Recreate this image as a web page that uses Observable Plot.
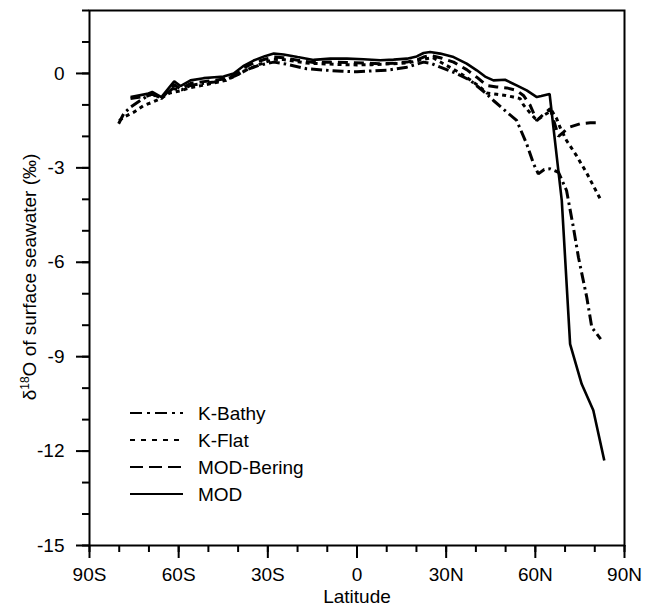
<!DOCTYPE html>
<html><head><meta charset="utf-8">
<script src="https://cdn.jsdelivr.net/npm/d3@7"></script>
<script src="https://cdn.jsdelivr.net/npm/@observablehq/plot@0.6"></script>
<style>body{margin:0;background:#fff}</style>
</head><body><div id="chart"></div><script>
// Latitude (degrees, negative = S) and δ18O values for each series
const modLat = [-76.2,-70.6,-68.9,-65.8,-61.5,-59.4,-56.0,-51.6,-48.0,-44.9,-41.5,-38.0,-34.8,-31.0,-28.0,-24.7,-20.0,-14.6,-9.0,-3.4,2.2,7.8,12.3,16.8,20.1,22.4,24.6,28.0,32.5,36.9,40.3,43.1,45.9,49.8,53.7,57.1,60.5,62.0,64.8,68.9,71.7,75.6,79.5,83.2];
const modVal = [-0.75,-0.65,-0.59,-0.75,-0.25,-0.40,-0.22,-0.15,-0.12,-0.10,0.00,0.25,0.41,0.55,0.63,0.60,0.52,0.43,0.47,0.47,0.45,0.42,0.44,0.47,0.54,0.65,0.68,0.63,0.52,0.31,0.10,-0.10,-0.22,-0.20,-0.38,-0.54,-0.75,-0.72,-0.65,-4.04,-8.60,-9.87,-10.70,-12.30];

const beringLat = [-76.2,-70.6,-68.9,-65.8,-61.5,-59.4,-56.0,-51.6,-48.0,-44.9,-41.5,-38.0,-34.8,-31.0,-28.0,-24.7,-20.0,-14.6,-9.0,-3.4,2.2,7.8,12.3,16.8,20.1,22.4,24.6,28.0,32.5,36.9,40.3,43.6,47.0,50.4,53.7,56.0,58.2,60.5,62.7,65.0,67.8,69.4,71.1,75.0,78.5,82.0];
const beringVal = [-0.80,-0.72,-0.66,-0.80,-0.35,-0.50,-0.32,-0.26,-0.22,-0.18,-0.05,0.18,0.33,0.45,0.52,0.50,0.42,0.35,0.36,0.35,0.33,0.31,0.32,0.36,0.43,0.52,0.57,0.50,0.36,0.12,-0.12,-0.38,-0.43,-0.46,-0.54,-0.70,-1.00,-1.50,-1.30,-1.12,-2.00,-1.87,-1.72,-1.60,-1.57,-1.57];

const kFlatLat = [-80.0,-78.5,-75.1,-71.8,-69.0,-66.1,-63.0,-59.4,-56.0,-52.0,-48.0,-44.0,-41.0,-37.0,-33.0,-28.0,-24.7,-17.0,-10.0,-5.0,0.0,5.0,10.0,16.8,22.4,25.5,30.2,34.0,38.0,41.4,43.6,47.0,50.0,52.6,54.9,56.0,58.2,60.5,62.7,65.5,67.2,68.3,70.5,73.9,77.3,82.3];
const kFlatVal = [-1.50,-1.39,-1.23,-1.02,-0.92,-0.80,-0.62,-0.55,-0.45,-0.38,-0.30,-0.22,-0.08,0.12,0.28,0.45,0.44,0.33,0.30,0.28,0.27,0.28,0.30,0.33,0.45,0.50,0.25,0.05,-0.20,-0.43,-0.62,-0.66,-0.70,-0.75,-0.80,-1.00,-1.25,-1.49,-1.34,-1.18,-1.44,-1.71,-2.13,-2.62,-3.17,-4.07];

const kBathyLat = [-80.2,-78.5,-76.2,-72.0,-69.0,-66.0,-62.0,-59.0,-56.0,-52.0,-48.0,-45.0,-41.0,-37.0,-33.0,-28.0,-24.0,-17.0,-10.0,-5.0,0.0,5.0,10.0,16.8,22.4,25.0,28.0,33.0,38.1,43.6,45.9,50.4,53.7,57.1,59.4,61.0,63.0,65.0,67.8,70.5,72.8,74.5,77.3,79.0,82.0];
const kBathyVal = [-1.60,-1.28,-1.07,-0.80,-0.65,-0.78,-0.48,-0.52,-0.38,-0.32,-0.27,-0.22,-0.08,0.12,0.26,0.36,0.30,0.15,0.10,0.07,0.05,0.08,0.10,0.20,0.36,0.32,0.20,0.02,-0.22,-0.65,-0.86,-1.23,-1.49,-2.24,-2.87,-3.19,-3.05,-3.03,-3.14,-3.72,-4.89,-5.84,-7.11,-8.07,-8.44];

const seriesNames = ["K-Bathy","K-Flat","MOD-Bering","MOD"];
const xTicksMajor = [-90,-60,-30,0,30,60,90];
const xTickLabels = ["90S","60S","30S","0","30N","60N","90N"];
const yTicksMajor = [-15,-12,-9,-6,-3,0];
const yTickLabels = ["-15","-12","-9","-6","-3","0"];

const styles = {
  "K-Bathy":   {dash:"11,4,2.5,4", width:3, legendDash:"12,5,3,5"},
  "K-Flat":    {dash:"4,4",        width:3, legendDash:"5,6"},
  "MOD-Bering":{dash:"10,6",       width:3, legendDash:"13,6"},
  "MOD":       {dash:null,         width:2.6, legendDash:null}
};
const seriesData = {
  "K-Bathy": [kBathyLat, kBathyVal],
  "K-Flat": [kFlatLat, kFlatVal],
  "MOD-Bering": [beringLat, beringVal],
  "MOD": [modLat, modVal]
};
const rows = seriesNames.flatMap(name => seriesData[name][0].map((lat,i) => ({series:name, lat, val:seriesData[name][1][i]})));

const font = '"Liberation Sans", Arial, sans-serif';
const tickFont = 19;
const chart = Plot.plot({
  width: 660, height: 606,
  marginLeft: 89, marginRight: 36, marginTop: 10, marginBottom: 61,
  style: {fontFamily: font, fontSize: tickFont + "px", color: "black", background: "white"},
  x: {domain: [-90, 90], label: null},
  y: {domain: [-15, 2], label: null},
  marks: [
    Plot.axisX({ticks: d3.range(-90, 91, 10), tickSize: 7, tickFormat: () => "", strokeWidth: 2, label: null}),
    Plot.axisX({ticks: xTicksMajor, tickSize: 13, tickPadding: 9, strokeWidth: 2, label: null,
      tickFormat: d => xTickLabels[xTicksMajor.indexOf(d)], fontSize: tickFont}),
    Plot.axisY({ticks: d3.range(-15, 3, 1), tickSize: 7, tickFormat: () => "", strokeWidth: 2, label: null}),
    Plot.axisY({ticks: yTicksMajor, tickSize: 13, tickPadding: 12, strokeWidth: 2, label: null,
      tickFormat: d => yTickLabels[yTicksMajor.indexOf(d)], fontSize: tickFont}),
    Plot.frame({strokeWidth: 2}),
    ...seriesNames.map(name => Plot.line(rows.filter(r => r.series === name), {
      x: "lat", y: "val", stroke: "black",
      strokeWidth: styles[name].width, strokeDasharray: styles[name].dash,
      strokeLinejoin: "miter", strokeLinecap: "butt"
    }))
  ]
});
document.getElementById("chart").appendChild(chart);

const svg = d3.select(chart);
// Axis titles
const yt = svg.append("text")
  .attr("transform", "translate(29,277) rotate(-90)")
  .attr("text-anchor", "middle").attr("dy", "0.35em")
  .attr("font-family", font).attr("font-size", 19).attr("fill", "black");
yt.append("tspan").text("δ");
yt.append("tspan").attr("font-size", 12).attr("dy", -7).text("18");
yt.append("tspan").attr("dy", 7).text("O of surface seawater (‰)");

svg.append("text").attr("x", 357).attr("y", 603).attr("text-anchor", "middle")
  .attr("font-family", font).attr("font-size", 19).attr("fill", "black").text("Latitude");

// Legend
const lg = svg.append("g");
seriesNames.forEach((name, i) => {
  const y = 413 + i * 27;
  lg.append("line").attr("x1", 130).attr("x2", 183).attr("y1", y).attr("y2", y)
    .attr("stroke", "black").attr("stroke-width", 2)
    .attr("stroke-dasharray", styles[name].legendDash);
  lg.append("text").attr("x", 198).attr("y", y).attr("dy", "0.35em")
    .attr("text-anchor", "start")
    .attr("font-family", font).attr("font-size", tickFont).attr("fill", "black").text(name);
});
</script></body></html>
